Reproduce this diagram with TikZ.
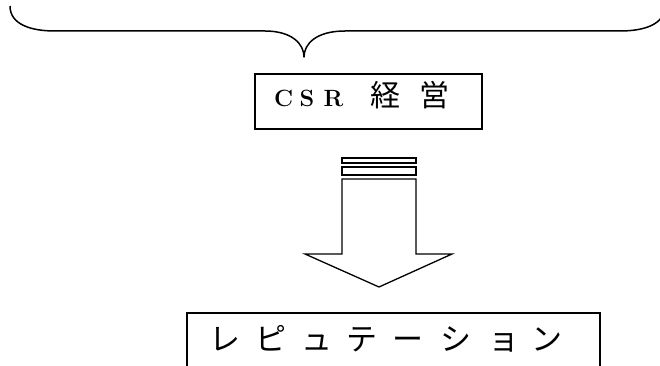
\documentclass[tikz,border=0pt]{standalone}
\usepackage{fontspec}
\newfontfamily\cjk{Noto Sans CJK JP}
\newcommand{\csrsize}{\fontsize{23.5pt}{28pt}\selectfont}
\newcommand{\kjsize}{\fontsize{30pt}{34pt}\selectfont}
\newcommand{\ktsize}{\fontsize{31pt}{35pt}\selectfont}
\tikzset{
  boxline/.style={draw=black, line width=1.3pt},
  braceline/.style={draw=black, line width=1.5pt, line join=round},
  arrowline/.style={draw=black, line width=1.3pt, fill=white},
  plaintext/.style={inner sep=0pt, anchor=base west},
}
\begin{document}
\begin{tikzpicture}[x=1pt, y=-1pt]
\useasboundingbox (0,0) rectangle (660,366);
% brace
\draw[braceline] (10,6) .. controls (10,24) and (30,31) .. (55,31)
  -- (265,31) .. controls (292,31) and (304,44) .. (304,57)
  .. controls (304,44) and (316,31) .. (345,31)
  -- (620,31) .. controls (645,31) and (665,24) .. (665,6);
% CSR box
\node[boxline, minimum width=227pt, minimum height=55pt, inner sep=0pt] (csr) at (368.5,101.5) {};
\node[plaintext] (csrtext) at (274,107) {\csrsize\bfseries\makebox[25.5pt][l]{C}\makebox[24pt][l]{S}\makebox[47pt][l]{R}{\cjk\kjsize\mdseries\makebox[49pt][l]{経}営}};
% arrow
\draw[arrowline] (342,158) rectangle (416,163);
\draw[arrowline] (342,167) rectangle (416,175);
\draw[arrowline] (342,179) -- (342,254) -- (305,254) -- (379,287) -- (452,254) -- (416,254) -- (416,179) -- cycle;
% bottom box
\draw[boxline] (187,380) -- (187,313) -- (600,313) -- (600,380);
\node[plaintext] (rep) at (209,350) {\cjk\ktsize\makebox[46pt][l]{レ}\makebox[46pt][l]{ピ}\makebox[45pt][l]{ュ}\makebox[46pt][l]{テ}\makebox[48pt][l]{ー}\makebox[48pt][l]{シ}\makebox[43pt][l]{ョ}ン};
\end{tikzpicture}
\end{document}
